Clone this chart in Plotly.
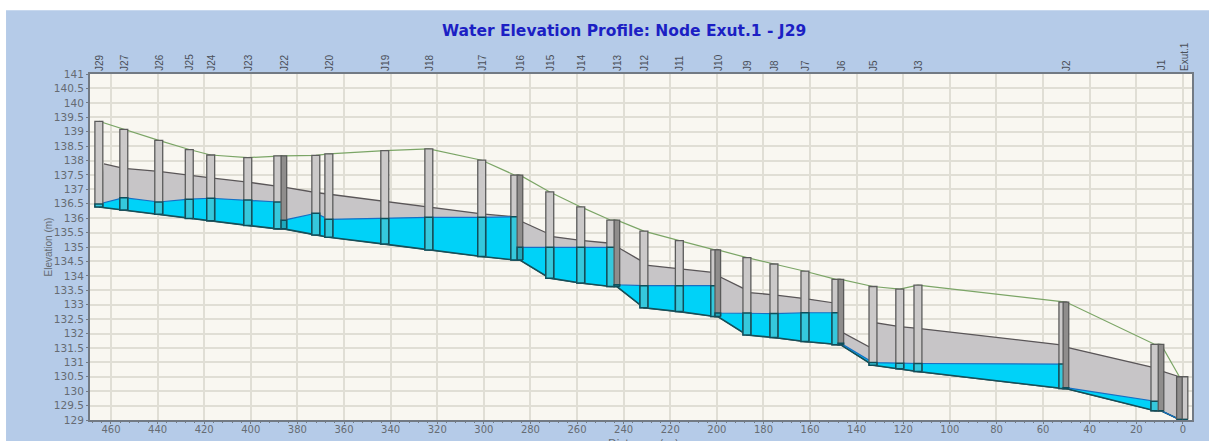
import plotly.graph_objects as go

# chamber data, ordered from upstream to outfall ('' = label hidden in the original)
node_names = ["J29","J27","J26","J25","J24","J23","","J22","","J20","J19","J18","J17","","J16","J15","J14","","J13",
              "J12","J11","","J10","J9","J8","J7","","J6","J5","","J3","","J2","","J1","","Exut.1"]
node_dist = [465.2,454.5,439.5,426.4,417.2,401.3,388.4,385.8,372.1,366.5,342.5,323.6,300.9,286.7,284.5,271.7,258.4,245.5,242.9,
             231.3,216.1,200.9,199.6,187.1,175.5,162.2,148.9,146.8,133.0,121.5,113.7,51.5,50.2,12.0,9.4,1.5,-0.4]
node_ground = [139.36,139.08,138.70,138.38,138.19,138.10,138.16,138.16,138.18,138.23,138.34,138.40,138.01,137.49,137.49,136.91,136.39,135.93,135.93,
               135.55,135.22,134.90,134.90,134.63,134.41,134.16,133.88,133.88,133.63,133.54,133.68,133.09,133.09,131.62,131.62,130.50,130.50]
node_invert = [136.39,136.28,136.14,135.99,135.91,135.75,135.63,135.63,135.42,135.34,135.10,134.90,134.67,134.55,134.55,133.92,133.75,133.63,133.63,
               132.89,132.76,132.59,132.59,131.95,131.86,131.72,131.61,131.61,130.90,130.78,130.68,130.09,130.09,129.32,129.32,129.02,129.02]
node_water = [136.49,136.71,136.56,136.66,136.69,136.63,136.56,135.93,136.17,135.96,135.99,136.03,136.03,136.05,134.99,134.99,134.99,134.99,133.69,
              133.66,133.66,133.66,132.71,132.71,132.69,132.72,132.72,131.66,130.99,130.97,130.96,130.94,130.12,129.65,129.33,129.02,129.02]
twin_chamber = [False,False,False,False,False,False,False,True,False,False,False,False,False,False,True,False,False,False,True,
                False,False,False,True,False,False,False,False,True,False,False,False,False,True,False,True,True,False]

# conduit crown profile
crown_dist = [463.0,454.5,439.5,426.4,417.2,401.3,388.4,385.8,372.1,366.5,342.5,323.6,300.9,286.7,284.5,272.5,270.5,258.4,245.5,242.9,
              232.5,230.5,216.1,200.9,199.6,188.0,186.0,175.5,162.2,148.9,146.8,134.5,132.5,121.5,113.7,51.5,50.2,12.0,9.4,1.5]
crown_elev = [137.88,137.73,137.62,137.48,137.40,137.25,137.11,137.08,136.89,136.83,136.57,136.38,136.15,136.05,135.91,135.47,135.36,135.23,135.13,135.01,
              134.52,134.37,134.24,134.11,134.00,133.54,133.42,133.34,133.21,133.05,132.07,131.53,132.38,132.24,132.18,131.60,131.53,130.81,130.70,130.50]

x_ticks = list(range(0, 461, 20))
y_ticks = [129 + 0.5 * i for i in range(25)]
y_tick_text = [f"{v:g}" for v in y_ticks]

TEXT = "#666b73"
GRID = "#e0ded5"
FONT = "DejaVu Sans"

fig = go.Figure()

def line_trace(x, y, color, width, fill=None, fillcolor=None):
    return go.Scatter(x=x, y=y, mode="lines", line=dict(color=color, width=width),
                      fill=fill, fillcolor=fillcolor, hoverinfo="skip", showlegend=False)

def chamber_trace(dists, lows, highs, width, fill, edge, edge_width):
    xs, ys = [], []
    for d, lo, hi in zip(dists, lows, highs):
        xs += [d - width / 2, d + width / 2, d + width / 2, d - width / 2, d - width / 2, None]
        ys += [lo, lo, hi, hi, lo, None]
    return go.Scatter(x=xs, y=ys, mode="lines", fill="toself", fillcolor=fill,
                      line=dict(color=edge, width=edge_width), hoverinfo="skip", showlegend=False)

fig.add_trace(line_trace(node_dist, node_invert, "#3a4a50", 1.2))
fig.add_trace(line_trace(crown_dist, crown_elev, "#5a5658", 1.3, "tonexty", "#c7c5c7"))
fig.add_trace(line_trace(node_dist, node_invert, "#14505a", 1.6))
fig.add_trace(line_trace(node_dist, node_water, "#1670c4", 1.2, "tonexty", "#00d2f8"))
fig.add_trace(line_trace(node_dist, node_ground, "#7ba566", 1.2))

for is_twin, width, fill, edge, wfill in [(False, 3.4, "#cbc9c9", "#5c5c5c", "#35c8dc"),
                                          (True, 2.4, "#8f8d8c", "#5a5a5a", "#1fa9bd")]:
    idx = [i for i, t in enumerate(twin_chamber) if t == is_twin]
    xs = [node_dist[i] for i in idx]
    lows = [node_invert[i] for i in idx]
    fig.add_trace(chamber_trace(xs, lows, [node_ground[i] for i in idx], width, fill, edge, 1.3))
    fig.add_trace(chamber_trace(xs, lows, [node_water[i] for i in idx], width, wfill, "#0e4f5c", 1.5))

for name, d in zip(node_names, node_dist):
    if name:
        fig.add_annotation(x=d, y=1.004, xref="x", yref="paper", text=name, textangle=-90, showarrow=False,
                           xanchor="center", yanchor="bottom",
                           font=dict(family="Liberation Sans", size=10, color="#4a4f58"))

fig.add_annotation(x=0.4846, y=1.0, xref="paper", yref="paper", yshift=43.5, text="Water Elevation Profile: Node Exut.1 - J29",
                   showarrow=False, yanchor="middle", font=dict(family=FONT, size=15.5, color="#1c1fc4", weight="bold"))
fig.add_annotation(x=-0.0445, y=0.5, xref="paper", yref="paper", text="Elevation (m)", textangle=-90, showarrow=False,
                   font=dict(family="Liberation Sans", size=10, color=TEXT))
fig.add_annotation(x=0.502, y=0, xref="paper", yref="paper", yshift=-15, text="Distance (m)", showarrow=False,
                   yanchor="top", font=dict(family=FONT, size=11, color=TEXT))

# white page strip outside the blue window
fig.add_shape(type="rect", xref="paper", yref="paper", x0=-0.09, x1=1.02, y0=1.1845, y1=1.30, fillcolor="white", line_width=0, layer="below")
fig.add_shape(type="rect", xref="paper", yref="paper", x0=-0.09, x1=-0.0762, y0=-0.1, y1=1.30, fillcolor="white", line_width=0, layer="below")

axis_common = dict(showgrid=True, gridcolor=GRID, gridwidth=1.5, zeroline=False, showline=True, linecolor="#727a84",
                   linewidth=2, mirror=True, ticks="outside", ticklen=2, tickcolor="#727a84", automargin=False)

fig.update_layout(
    width=1209, height=441, showlegend=False,
    margin=dict(l=90, r=17, t=73.5, b=21),
    paper_bgcolor="#b5cbe8", plot_bgcolor="#f9f7f1",
    xaxis=dict(range=[469, -3.9], tickvals=x_ticks, ticktext=[str(v) for v in x_ticks],
               ticklabelstandoff=-3, minor=dict(dtick=4, ticks="outside", ticklen=1, tickcolor="#727a84", showgrid=False),
               tickfont=dict(family=FONT, size=10, color=TEXT), **axis_common),
    yaxis=dict(range=[129, 141], tickvals=y_ticks, ticktext=y_tick_text,
               tickfont=dict(family=FONT, size=10.5, color=TEXT), **axis_common),
)

fig.write_html("out.html", config={"displayModeBar": False}, post_script="document.body.style.margin='0';")
